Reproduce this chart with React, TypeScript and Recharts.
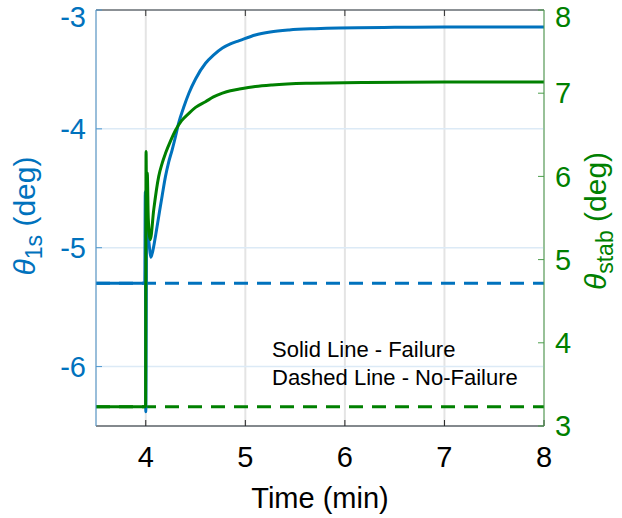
import React from 'react';
import {
  ComposedChart,
  Line,
  XAxis,
  YAxis,
  CartesianGrid,
} from 'recharts';

// Time axis (min)
const timeTicks = [4, 5, 6, 7, 8];
const theta1sTicks = [-6, -5, -4, -3];
const thetaStabTicks = [3, 4, 5, 6, 7, 8];

// theta_1s, failure case (deg)
const t1sTime = [3.5, 3.99, 3.995, 4.0, 4.01, 4.02, 4.035, 4.05, 4.064, 4.1, 4.13, 4.165, 4.198, 4.23, 4.265, 4.3, 4.33, 4.38, 4.433, 4.5, 4.6, 4.68, 4.77, 4.85, 4.94, 5.1, 5.25, 5.44, 5.7, 5.94, 6.5, 7, 8];
const t1sFail = [-5.3, -5.3, -4.53, -6.38, -4.6, -4.85, -4.98, -5.08, -5.05, -4.89, -4.737, -4.56, -4.4, -4.28, -4.176, -4.06, -3.952, -3.82, -3.7, -3.58, -3.448, -3.38, -3.32, -3.285, -3.258, -3.21, -3.185, -3.168, -3.157, -3.151, -3.146, -3.144, -3.143];
const t1sNoFail = [-5.3, -5.3];
const t1sNoFailTime = [3.5, 8];

// theta_stab, failure case (deg)
const stabTime = [3.5, 3.998, 4.003, 4.008, 4.015, 4.025, 4.045, 4.08, 4.13, 4.165, 4.198, 4.25, 4.3, 4.36, 4.433, 4.5, 4.6, 4.68, 4.77, 4.85, 4.94, 5.1, 5.27, 5.61, 6.2, 7, 8];
const stabFail = [3.23, 3.23, 6.3, 5.6, 6.04, 5.5, 5.24, 5.6, 6.0, 6.16, 6.277, 6.43, 6.558, 6.67, 6.758, 6.83, 6.898, 6.955, 7.0, 7.03, 7.05, 7.08, 7.099, 7.119, 7.13, 7.134, 7.135];
const stabNoFail = [3.23, 3.23];
const stabNoFailTime = [3.5, 8];

const BLUE = '#0072BD';
const GREEN = '#008000';
const FONT = '"Liberation Sans", Arial, Helvetica, sans-serif';

const toRows = (ts: number[], vs: number[]) => ts.map((t, i) => ({ t, v: vs[i] }));

const LeftLabel = () => (
  <text
    x={35}
    y={216}
    transform="rotate(-90, 35, 216)"
    textAnchor="middle"
    fill={BLUE}
    fontSize={30}
    fontFamily={FONT}
  >
    <tspan fontStyle="italic">θ</tspan>
    <tspan fontSize={23} dy={7}>1s</tspan>
    <tspan dy={-7}> (deg)</tspan>
  </text>
);

const RightLabel = () => (
  <text
    x={606}
    y={221}
    transform="rotate(-90, 606, 221)"
    textAnchor="middle"
    fill={GREEN}
    fontSize={30}
    fontFamily={FONT}
  >
    <tspan fontStyle="italic">θ</tspan>
    <tspan fontSize={23} dy={7}>stab</tspan>
    <tspan dy={-7}> (deg)</tspan>
  </text>
);

const TimeLabel = () => (
  <text x={320} y={508} textAnchor="middle" fill="#000" fontSize={29} fontFamily={FONT}>
    Time (min)
  </text>
);

export default function App() {
  return (
    <div style={{ position: 'absolute', left: 0, top: 0, width: 622, height: 518, background: '#fff' }}>
      <ComposedChart
        width={622}
        height={518}
        margin={{ top: 9, right: 0, bottom: 0, left: 0 }}
        style={{ fontFamily: FONT }}
      >
        <CartesianGrid xAxisId="b" yAxisId="l" horizontal={false} stroke="#e4e4e4" strokeWidth={2} />
        <CartesianGrid xAxisId="b" yAxisId="l" vertical={false} stroke="#dceaf6" strokeWidth={1.5} />
        <XAxis
          xAxisId="b"
          type="number"
          dataKey="t"
          domain={[3.5, 8]}
          ticks={timeTicks}
          allowDataOverflow
          height={92}
          stroke="#222"
          tickSize={-6}
          tickMargin={26}
          tick={{ fill: '#000', fontSize: 29 }}
          label={<TimeLabel />}
        />
        <XAxis
          xAxisId="top"
          orientation="top"
          type="number"
          dataKey="t"
          domain={[3.5, 8]}
          ticks={[4, 5, 6, 7]}
          allowDataOverflow
          height={1}
          stroke="#333"
          tickSize={-6}
          tickFormatter={() => ''}
        />
        <YAxis
          yAxisId="l"
          type="number"
          domain={[-6.5, -3]}
          ticks={theta1sTicks}
          allowDataOverflow
          width={96}
          stroke="#4f98d0"
          tickSize={-6}
          tickMargin={16}
          tick={{ fill: BLUE, fontSize: 29 }}
          label={<LeftLabel />}
        />
        <YAxis
          yAxisId="r"
          orientation="right"
          type="number"
          domain={[3, 8]}
          ticks={thetaStabTicks}
          allowDataOverflow
          width={78}
          stroke="#4c9e4c"
          tickSize={-6}
          tickMargin={17}
          tick={{ fill: GREEN, fontSize: 29 }}
          label={<RightLabel />}
        />
        <Line
          xAxisId="b"
          yAxisId="l"
          data={toRows(t1sNoFailTime, t1sNoFail)}
          dataKey="v"
          stroke={BLUE}
          strokeWidth={3}
          strokeDasharray="14 9"
          dot={false}
          isAnimationActive={false}
        />
        <Line
          xAxisId="b"
          yAxisId="r"
          data={toRows(stabNoFailTime, stabNoFail)}
          dataKey="v"
          stroke={GREEN}
          strokeWidth={3}
          strokeDasharray="14 9"
          dot={false}
          isAnimationActive={false}
        />
        <Line
          xAxisId="b"
          yAxisId="l"
          type="monotone"
          data={toRows(t1sTime, t1sFail)}
          dataKey="v"
          stroke={BLUE}
          strokeWidth={3}
          dot={false}
          isAnimationActive={false}
        />
        <Line
          xAxisId="b"
          yAxisId="r"
          type="monotone"
          data={toRows(stabTime, stabFail)}
          dataKey="v"
          stroke={GREEN}
          strokeWidth={3}
          dot={false}
          isAnimationActive={false}
        />
      </ComposedChart>
      <svg
        width={622}
        height={518}
        style={{ position: 'absolute', left: 0, top: 0, pointerEvents: 'none' }}
      >
        <text x={272} y={357} fontSize={22} fontFamily={FONT} fill="#000">
          Solid Line - Failure
        </text>
        <text x={272} y={385} fontSize={22} fontFamily={FONT} fill="#000">
          Dashed Line - No-Failure
        </text>
      </svg>
    </div>
  );
}
